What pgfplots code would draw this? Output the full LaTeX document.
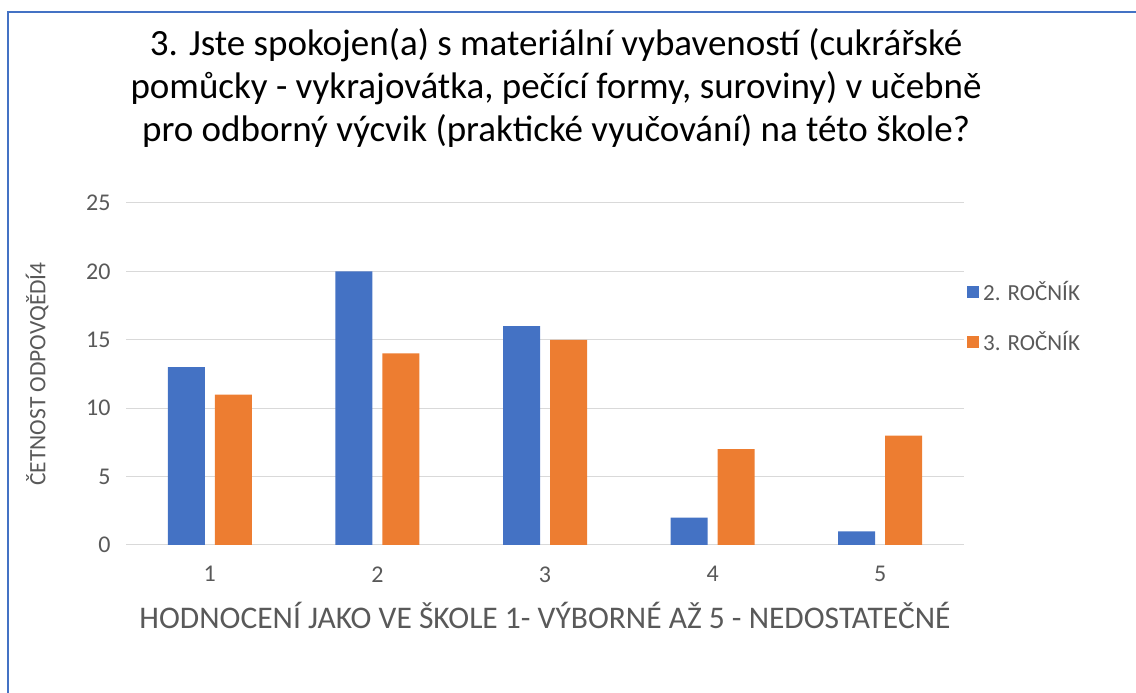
\documentclass[border=0pt]{standalone}
\usepackage{pgfplots}
\pgfplotsset{compat=1.18}
\usepackage{fontspec}
\setmainfont{Carlito}
\definecolor{cblue}{HTML}{4472C4}
\definecolor{corange}{HTML}{ED7D31}
\definecolor{gridc}{HTML}{D9D9D9}
\definecolor{txt}{HTML}{595959}
\begin{document}
\begin{tikzpicture}[x=1pt,y=1pt]
\path[use as bounding box] (0pt,0pt) rectangle (1136pt,693pt);
\draw[cblue, line width=1.3pt] (8pt,-5pt) -- (8pt,681pt) -- (1141pt,681pt);
\begin{axis}[
  at={(126pt,148pt)}, anchor=south west,
  scale only axis, width=838pt, height=342pt,
  xmin=0.5, xmax=5.5, ymin=0, ymax=25,
  xtick={1,2,3,4,5}, ytick={0,5,10,15,20,25},
  ybar=10pt, bar width=37pt,
  axis x line*=bottom, axis y line*=left,
  x axis line style={draw=gridc, line width=1pt, -},
  y axis line style={draw=none},
  major tick length=0pt,
  ymajorgrids, grid style={draw=gridc, line width=1pt},
  /pgf/number format/assume math mode=true,
  tick label style={font=\fontsize{24}{28}\selectfont, text=txt},
  xticklabel style={yshift=-18pt},
  yticklabel style={xshift=-12pt},
  xlabel={HODNOCENÍ JAKO VE ŠKOLE 1- VÝBORNÉ AŽ 5 - NEDOSTATEČNÉ},
  xlabel style={at={(axis description cs:0.5,-0.205)}, anchor=center, font=\fontsize{31.5}{36}\selectfont, text=txt},
  ylabel={ČETNOST ODPOVQĚDÍ4},
  ylabel style={at={(axis description cs:-0.106,0.5)}, anchor=center, font=\fontsize{23.5}{28}\selectfont, text=txt},
  legend style={at={(axis description cs:1.0,0.667)}, anchor=west, draw=none, fill=none,
    font=\fontsize{23}{27}\selectfont, text=txt, row sep=25pt,
    /tikz/every odd column/.append style={column sep=0pt},
    nodes={inner xsep=4pt}},
  legend cell align=left,
  legend image code/.code={\fill[#1,draw=none] (0pt,-6pt) rectangle (12pt,6pt);},
]
\addplot[fill=cblue, draw=none] coordinates {(1,13) (2,20) (3,16) (4,2) (5,1)};
\addplot[fill=corange, draw=none] coordinates {(1,11) (2,14) (3,15) (4,7) (5,8)};
\legend{2. ROČNÍK, 3. ROČNÍK}
\end{axis}
\node[align=center, font=\fontsize{37}{43}\selectfont, text=black] at (556pt,605pt)
 {3. Jste spokojen(a) s materiální vybaveností (cukrářské\\
  pomůcky - vykrajovátka, pečící formy, suroviny) v učebně\\
  pro odborný výcvik (praktické vyučování) na této škole?};
\end{tikzpicture}
\end{document}
